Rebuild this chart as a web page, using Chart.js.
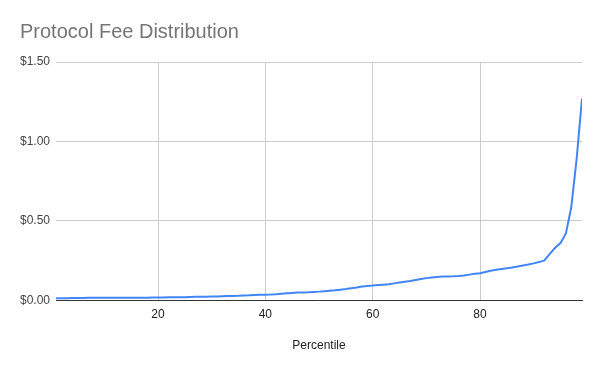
<!DOCTYPE html>
<html>
<head>
<meta charset="utf-8">
<title>Protocol Fee Distribution</title>
<script src="https://cdn.jsdelivr.net/npm/chart.js@4"></script>
<style>
  html, body { margin: 0; padding: 0; background: #fff; }
  #wrap { width: 600px; height: 371px; }
</style>
</head>
<body>
<div id="wrap"><canvas id="feeChart" width="600" height="371"></canvas></div>
<script>
// percentiles 1..99 and fee at each (USD)
const percentiles = [];
for (let p = 1; p <= 99; p++) percentiles.push(p);

const fees = [
  0.013, 0.013, 0.013, 0.014, 0.014, 0.014, 0.015, 0.015, 0.015, 0.015,
  0.015, 0.015, 0.015, 0.016, 0.016, 0.016, 0.016, 0.016, 0.017, 0.017,
  0.017, 0.018, 0.018, 0.019, 0.019, 0.020, 0.021, 0.021, 0.022, 0.023,
  0.024, 0.025, 0.026, 0.027, 0.028, 0.030, 0.031, 0.033, 0.034, 0.035,
  0.036, 0.038, 0.041, 0.044, 0.046, 0.048, 0.049, 0.050, 0.052, 0.054,
  0.057, 0.060, 0.062, 0.066, 0.070, 0.075, 0.080, 0.086, 0.090, 0.092,
  0.095, 0.098, 0.101, 0.106, 0.111, 0.116, 0.121, 0.127, 0.133, 0.139,
  0.143, 0.146, 0.149, 0.150, 0.151, 0.153, 0.156, 0.161, 0.166, 0.170,
  0.178, 0.186, 0.192, 0.197, 0.201, 0.206, 0.212, 0.219, 0.225, 0.232,
  0.240, 0.250, 0.292, 0.330, 0.360, 0.420, 0.585, 0.890, 1.270
];

const xTicks = [20, 40, 60, 80];
const yTicks = [0, 0.5, 1.0, 1.5];

const fontFam = "Arial, 'Liberation Sans', sans-serif";
const gridCol = '#cccccc';

// nudge the title a little right of the y labels, like the original
const titleNudge = {
  id: 'titleNudge',
  afterLayout(chart) {
    chart.titleBlock.left += 6;
    chart.titleBlock.right += 6;
  }
};

new Chart(document.getElementById('feeChart'), {
  type: 'line',
  data: {
    datasets: [{
      label: 'Fee',
      data: percentiles.map((p, i) => ({ x: p, y: fees[i] })),
      borderColor: '#4285F4',
      borderWidth: 2,
      pointRadius: 0,
      tension: 0,
      fill: false,
    }]
  },
  options: {
    responsive: false,
    animation: false,
    layout: { padding: { left: 14, right: 18, top: 0, bottom: 18 } },
    scales: {
      x: {
        type: 'linear',
        min: 1, max: 99,
        afterBuildTicks: s => { s.ticks = xTicks.map(v => ({ value: v })); },
        grid: { color: gridCol, drawTicks: false },
        border: { display: true, color: '#333333', width: 1 },
        ticks: { font: { family: fontFam, size: 12 }, color: '#222222', padding: 7, maxRotation: 0 },
        title: {
          display: true, text: 'Percentile',
          font: { family: fontFam, size: 12 }, color: '#222222',
          padding: { top: 10, bottom: 0 }
        }
      },
      y: {
        min: 0, max: 1.5,
        afterBuildTicks: s => { s.ticks = yTicks.map(v => ({ value: v })); },
        grid: { color: gridCol, drawTicks: false },
        border: { display: false },
        ticks: {
          font: { family: fontFam, size: 12 }, color: '#444444', padding: 6,
          callback: v => '$' + Number(v).toFixed(2)
        }
      }
    },
    plugins: {
      legend: { display: false },
      tooltip: { enabled: false },
      title: {
        display: true, text: 'Protocol Fee Distribution', align: 'start',
        font: { family: fontFam, size: 20, weight: 'normal' }, color: '#757575',
        padding: { top: 20, bottom: 18 }
      }
    }
  },
  plugins: [titleNudge]
});
</script>
</body>
</html>
